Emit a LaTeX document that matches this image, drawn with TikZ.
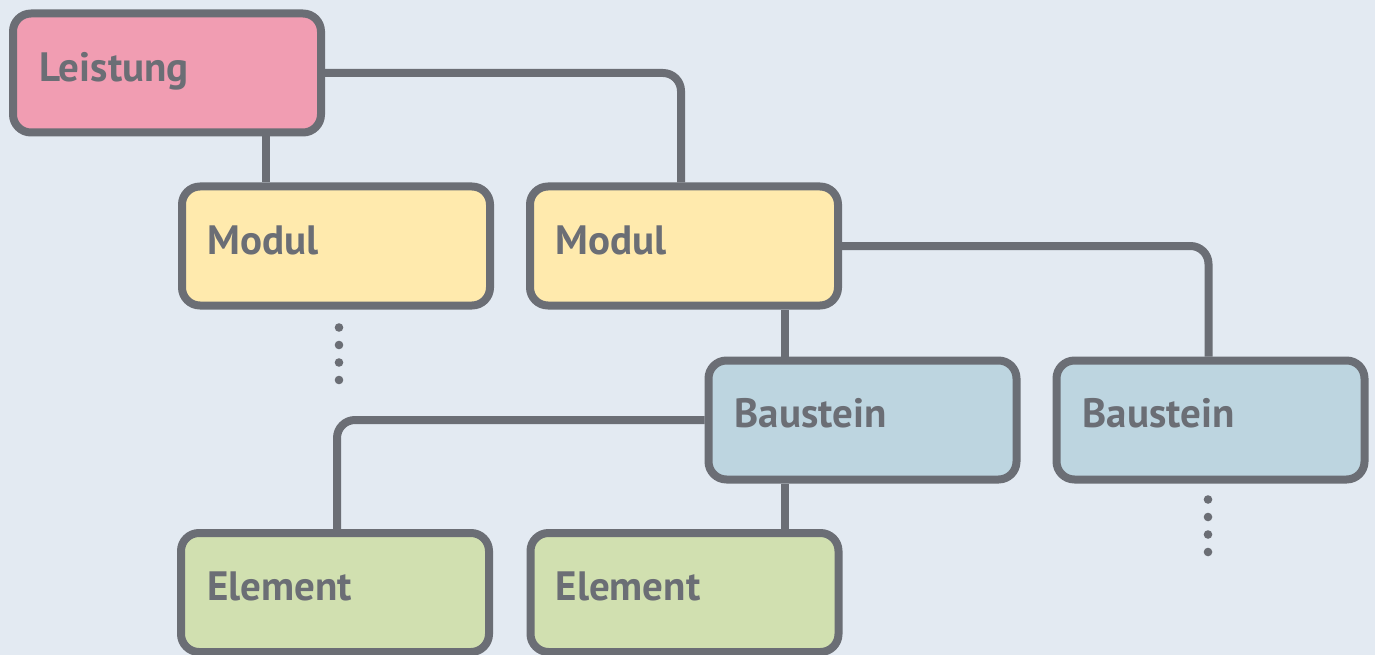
\documentclass[tikz,border=0pt]{standalone}
\usepackage{fontspec}
\setmainfont{PT Sans}
\usetikzlibrary{calc}
\definecolor{bgc}{HTML}{E3EAF2}
\definecolor{strokec}{HTML}{6B6E75}
\definecolor{pinkc}{HTML}{F19DB2}
\definecolor{yellowc}{HTML}{FFEAAD}
\definecolor{bluec}{HTML}{BDD5E0}
\definecolor{greenc}{HTML}{D1E0B0}
\tikzset{
  box/.style={draw=strokec, line width=8pt, rounded corners=18pt, inner sep=0pt,
    minimum width=308pt, minimum height=119pt},
  lbl/.style={anchor=base west, inner sep=0pt, text=strokec,
    font=\fontsize{41}{41}\selectfont\bfseries},
  conn/.style={draw=strokec, line width=8pt, rounded corners=18pt},
  dotc/.style={fill=strokec}
}
\begin{document}
\begin{tikzpicture}[x=1pt,y=-1pt]
\useasboundingbox (0,0) rectangle (1375,655);
\fill[bgc] (0,0) rectangle (1375,655);
\path
  node[box, fill=pinkc]   (lei)  at (167,73)     {}
  node[box, fill=yellowc] (mod1) at (336,246)    {}
  node[box, fill=yellowc] (mod2) at (684,246)    {}
  node[box, fill=bluec]   (bau1) at (862.5,420)  {}
  node[box, fill=bluec]   (bau2) at (1210.5,420) {}
  node[box, fill=greenc]  (el1)  at (335,592.5)  {}
  node[box, fill=greenc]  (el2)  at (684.5,592.5){};
% connectors
\draw[conn] (lei.east) -| ([xshift=-3pt]mod2.north);
\draw[conn] ([xshift=257pt]lei.south west) -- ([xshift=257pt]lei.south west |- mod1.north);
\draw[conn] ([xshift=80pt]bau1.north west) -- ([xshift=80pt]bau1.north west |- mod2.south);
\draw[conn] (mod2.east) -| ([xshift=-2pt]bau2.north);
\draw[conn] (bau1.west) -| ([xshift=2pt]el1.north);
\draw[conn] ([xshift=80pt]bau1.south west) -- ([xshift=80pt]bau1.south west |- el2.north);
% labels
\node[lbl] at ($(lei.north west)+(30,72)$)  {Leistung};
\node[lbl] at ($(mod1.north west)+(29,72)$) {Modul};
\node[lbl] at ($(mod2.north west)+(29,72)$) {Modul};
\node[lbl] at ($(bau1.north west)+(30,71)$) {Baustein};
\node[lbl] at ($(bau2.north west)+(30,71)$) {Baustein};
\node[lbl] at ($(el1.north west)+(30,71)$)  {Element};
\node[lbl] at ($(el2.north west)+(29,71)$)  {Element};
% dots
\foreach \k in {0,1,2,3} {
  \fill[dotc] ($(mod1.south)+(3,18+17.5*\k)$) circle (4.3);
  \fill[dotc] ($(bau2.south)+(-2.5,16+17.5*\k)$) circle (4.3);
}
\end{tikzpicture}
\end{document}
